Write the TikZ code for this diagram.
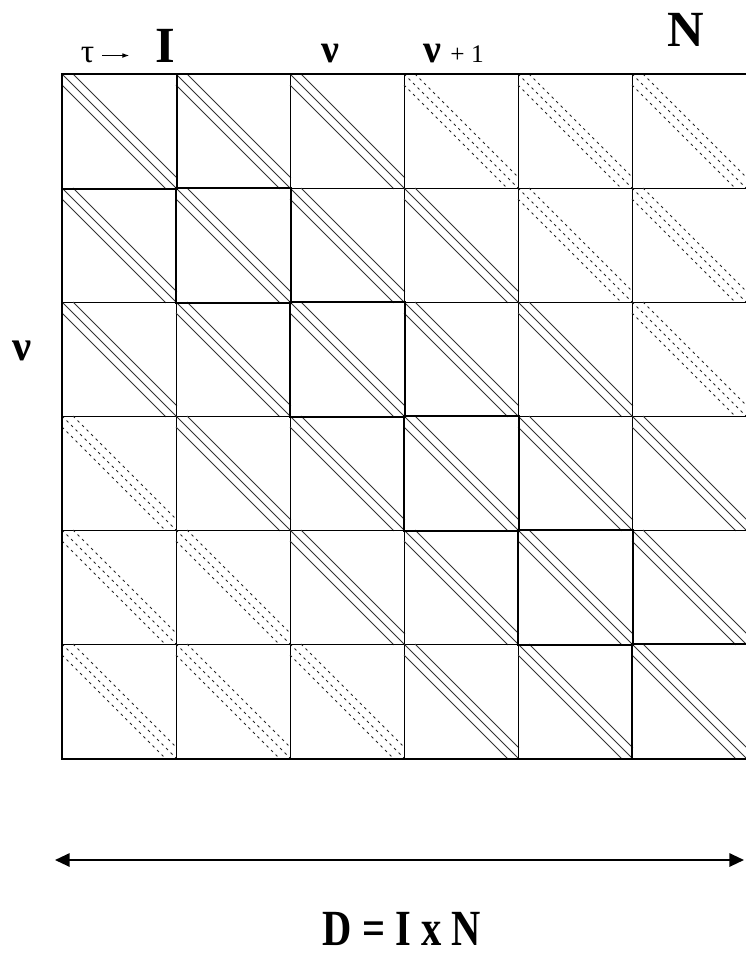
\documentclass[tikz,border=0pt]{standalone}
\usepackage{fontspec}
\setmainfont{Liberation Serif}
\usetikzlibrary{positioning,arrows.meta}

\begin{document}
\begin{tikzpicture}[
    x=0.75pt, y=-0.75pt,
    cell/.style={draw, line width=0.7pt, minimum size=85.5pt, inner sep=0pt, anchor=north west},
    near/.style={line width=0.55pt, black!80},
    far/.style={line width=0.6pt, black!85, dash pattern=on 2pt off 2.8pt},
    frame/.style={line width=1.8pt},
    lbl/.style={inner sep=0pt, anchor=base},
    biglbl/.style={lbl, font=\fontsize{38}{40}\selectfont\bfseries},
    nulbl/.style={lbl, font=\fontsize{30}{32}\selectfont\bfseries},
    smallarr/.style={-{Latex[length=5pt,width=3.5pt]}, line width=0.6pt},
    dimarr/.style={{Triangle[length=11pt,width=10pt]}-{Triangle[length=11pt,width=10pt]}, line width=1.5pt}
]
\useasboundingbox (0,0) rectangle (745,955);

% blocks of the matrix, banded ones solid, far ones dashed
\foreach \r in {1,...,6}
  \foreach \c in {1,...,6} {
    \pgfmathtruncatemacro\off{abs(\r-\c)}
    \ifnum\off>2 \def\band{far}\else\def\band{near}\fi
    \node[cell] (b-\r-\c) at ({62+114*(\c-1)}, {74+114*(\r-1)}) {};
    \draw[\band] (b-\r-\c.north west) -- (b-\r-\c.south east);
    \draw[\band] ([xshift=8.25pt]b-\r-\c.north west) -- ([yshift=8.25pt]b-\r-\c.south east);
    \draw[\band] ([yshift=-8.25pt]b-\r-\c.north west) -- ([xshift=-8.25pt]b-\r-\c.south east);
  }

% diagonal blocks and outer frame
\foreach \k in {1,...,6}
  \draw[frame] (b-\k-\k.north west) rectangle (b-\k-\k.south east);
\draw[frame] (b-1-1.north west) rectangle (b-6-6.south east);

% labels
\node[lbl, font=\fontsize{25}{27}\selectfont] (tau) at (87.5,63) {τ};
\coordinate[right=26pt of tau] (tauend);
\draw[smallarr] ([xshift=6pt]tau.east) -- (tauend);
\node[biglbl] (ilbl) at (165.5,63) {I};
\node[nulbl] (nucol) at (330,63) {ν};
\node[nulbl, anchor=base west] (nunext) at (423,63) {ν\hspace{7pt}{\fontsize{19}{21}\selectfont\mdseries + 1}};
\node[biglbl] (nlbl) at (686,47) {N};
\node[lbl, font=\fontsize{32}{34}\selectfont\bfseries] (nurow) at (22.5,360) {ν};

% total length
\coordinate (dimL) at (55,860);
\coordinate (dimR) at (744,860);
\draw[dimarr] (dimL) -- (dimR);
\node[biglbl] (dimlbl) at (402,945) {\scalebox{0.8}[1]{D = I x N}};
\end{tikzpicture}
\end{document}
